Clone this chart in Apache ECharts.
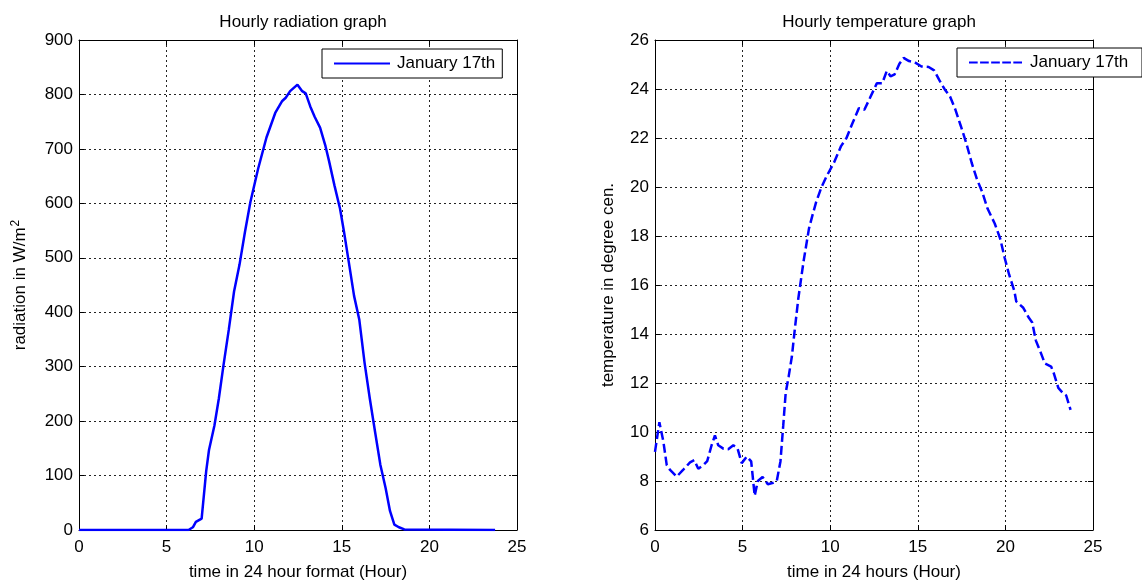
<!DOCTYPE html>
<html><head><meta charset="utf-8">
<script src="https://cdn.jsdelivr.net/npm/echarts@6/dist/echarts.min.js"></script>
<style>html,body{margin:0;padding:0;background:#fff}#c{width:1142px;height:586px}</style>
</head><body><div id="c"></div>
<script>
// Radiation (W/m^2) vs hour
const radHours = [0, 6.25, 6.5, 6.67, 7.0, 7.26, 7.42, 7.73, 7.98, 8.24, 8.55, 8.85, 9.16, 9.47, 9.78, 10.22, 10.7, 11.2, 11.6, 11.8, 12.05, 12.47, 12.74, 12.94, 13.2, 13.45, 13.76, 14.07, 14.27, 14.58, 14.9, 15.13, 15.4, 15.7, 16.0, 16.3, 16.6, 16.9, 17.2, 17.5, 17.75, 18.0, 18.26, 18.57, 23.75];
const radValues = [0, 0, 5, 15, 21, 108, 147, 192, 241, 301, 368, 438, 487, 547, 602, 663, 721, 766, 788, 794, 806, 818, 806, 802, 778, 759, 739, 705, 678, 633, 590, 547, 492, 430, 386, 307, 241, 180, 120, 77, 35, 10, 5, 1, 0];
// Temperature (deg C) vs hour
const tempHours = [0, 0.25, 0.48, 0.67, 0.86, 1.24, 1.6, 2.0, 2.24, 2.47, 2.76, 2.98, 3.23, 3.42, 3.61, 3.9, 4.18, 4.47, 4.71, 4.95, 5.24, 5.49, 5.69, 5.87, 6.14, 6.44, 6.75, 6.95, 7.16, 7.32, 7.46, 7.63, 7.81, 7.97, 8.18, 8.48, 8.79, 8.99, 9.2, 9.5, 9.81, 10.22, 10.62, 10.93, 11.24, 11.64, 11.95, 12.26, 12.66, 12.97, 13.23, 13.44, 13.68, 13.95, 14.19, 14.5, 14.8, 15.21, 15.62, 15.93, 16.23, 16.54, 16.84, 17.15, 17.46, 17.76, 18.07, 18.37, 18.68, 18.98, 19.39, 19.7, 19.96, 20.21, 20.51, 20.62, 21.02, 21.33, 21.53, 21.74, 22.04, 22.25, 22.61, 22.76, 23.02, 23.27, 23.47, 23.72];
const tempValues = [9.19, 10.4, 9.6, 8.65, 8.45, 8.18, 8.45, 8.76, 8.85, 8.5, 8.65, 8.81, 9.46, 9.86, 9.46, 9.32, 9.3, 9.46, 9.33, 8.73, 9.0, 8.8, 7.4, 8.0, 8.16, 7.87, 7.93, 8.0, 8.8, 10.27, 11.6, 12.27, 13.07, 14.13, 15.45, 16.97, 18.31, 18.85, 19.39, 19.99, 20.46, 21.0, 21.67, 22.0, 22.55, 23.22, 23.15, 23.62, 24.23, 24.23, 24.74, 24.52, 24.6, 25.03, 25.27, 25.14, 25.1, 24.92, 24.9, 24.76, 24.36, 23.98, 23.69, 23.15, 22.48, 21.81, 21.0, 20.33, 19.79, 19.12, 18.51, 17.9, 17.1, 16.43, 15.76, 15.33, 15.07, 14.67, 14.47, 13.73, 13.2, 12.8, 12.67, 12.4, 11.8, 11.6, 11.49, 10.9];
const xTicks = [0, 5, 10, 15, 20, 25];
const radTicks = [0, 100, 200, 300, 400, 500, 600, 700, 800, 900];
const tempTicks = [6, 8, 10, 12, 14, 16, 18, 20, 22, 24, 26];
const seriesName = 'January 17th';

const FONT = '"Liberation Sans", Arial, sans-serif';
const chart = echarts.init(document.getElementById('c'), null, {renderer: 'canvas'});
const split = {show: true, lineStyle: {color: '#222', type: [2, 3], width: 1}};
function mainX(gi, name) {
  return {type: 'value', gridIndex: gi, min: xTicks[0], max: xTicks[xTicks.length - 1], interval: 5,
    name: name, nameLocation: 'middle', nameGap: 34,
    nameTextStyle: {fontFamily: FONT, fontSize: 17, color: '#000', verticalAlign: 'top'},
    axisLine: {show: true, onZero: false, lineStyle: {color: '#000', width: 1}},
    axisTick: {show: true, inside: true, length: 5, lineStyle: {color: '#000'}},
    axisLabel: {fontFamily: FONT, fontSize: 17, color: '#000', margin: 9},
    splitLine: split};
}
function topX(gi) {
  return {type: 'value', gridIndex: gi, position: 'top', min: xTicks[0], max: xTicks[xTicks.length - 1], interval: 5,
    axisLine: {show: true, onZero: false, lineStyle: {color: '#000'}},
    axisTick: {show: true, inside: true, length: 5, lineStyle: {color: '#000'}},
    axisLabel: {show: false}, splitLine: {show: false}};
}
function mainY(gi, ticks, name, nameGap) {
  return {type: 'value', gridIndex: gi, min: ticks[0], max: ticks[ticks.length - 1], interval: ticks[1] - ticks[0],
    name: name, nameLocation: 'middle', nameGap: nameGap, nameRotate: 90,
    nameTextStyle: {fontFamily: FONT, fontSize: 17, color: '#000',
      rich: {sup: {fontFamily: FONT, fontSize: 12, color: '#000', verticalAlign: 'top', padding: [0, 0, 9, 1]}}},
    axisLine: {show: true, onZero: false, lineStyle: {color: '#000'}},
    axisTick: {show: true, inside: true, length: 5, lineStyle: {color: '#000'}},
    axisLabel: {fontFamily: FONT, fontSize: 17, color: '#000', margin: 6},
    splitLine: split};
}
function rightY(gi, ticks) {
  return {type: 'value', gridIndex: gi, position: 'right', min: ticks[0], max: ticks[ticks.length - 1], interval: ticks[1] - ticks[0],
    axisLine: {show: true, onZero: false, lineStyle: {color: '#000'}},
    axisTick: {show: true, inside: true, length: 5, lineStyle: {color: '#000'}},
    axisLabel: {show: false}, splitLine: {show: false}};
}
const radData = radHours.map((h, i) => [h, radValues[i]]);
const tempData = tempHours.map((h, i) => [h, tempValues[i]]);

const solidIcon = 'path://M0,0h50v2h-50z';
const dashIcon = 'path://M0,0h9v2h-9z M11.5,0h9v2h-9z M23,0h9v2h-9z M34.5,0h9v2h-9z M46,0h9v2h-9z';

chart.setOption({
  animation: false,
  backgroundColor: '#fff',
  title: [
    {text: 'Hourly radiation graph', left: 298, top: 9, textAlign: 'center',
      textStyle: {fontFamily: FONT, fontSize: 17, fontWeight: 'normal', color: '#000'}},
    {text: 'Hourly temperature graph', left: 874, top: 9, textAlign: 'center',
      textStyle: {fontFamily: FONT, fontSize: 17, fontWeight: 'normal', color: '#000'}}
  ],
  grid: [
    {left: 79, top: 40, width: 438, height: 495, show: false},
    {left: 655, top: 40, width: 438, height: 495, show: false}
  ],
  legend: [
    {data: [{name: seriesName, icon: solidIcon}], left: 322, top: 49, orient: 'vertical',
      borderColor: '#000', borderWidth: 1, padding: [6, 7, 6, 12], backgroundColor: '#fff',
      itemWidth: 56, itemHeight: 2.5, itemGap: 0,
      textStyle: {fontFamily: FONT, fontSize: 17, color: '#000', padding: [0, 0, 0, 2]}, selectedMode: false},
    {data: [{name: seriesName + ' ', icon: dashIcon}], left: 957, top: 48, orient: 'vertical',
      borderColor: '#000', borderWidth: 1, padding: [6, 9, 6, 12], backgroundColor: '#fff',
      itemWidth: 53, itemHeight: 2.5, itemGap: 0,
      textStyle: {fontFamily: FONT, fontSize: 17, color: '#000', padding: [0, 0, 0, 3]}, selectedMode: false}
  ],
  xAxis: [mainX(0, 'time in 24 hour format (Hour)'), topX(0), mainX(1, 'time in 24 hours (Hour)'), topX(1)],
  yAxis: [mainY(0, radTicks, 'radiation in W/m{sup|2}', 48), rightY(0, radTicks),
          mainY(1, tempTicks, 'temperature in degree cen.', 38), rightY(1, tempTicks)],
  series: [
    {name: seriesName, type: 'line', xAxisIndex: 0, yAxisIndex: 0, data: radData,
      symbol: 'none', lineStyle: {color: '#0000ff', width: 2.5}, itemStyle: {color: '#0000ff'}, z: 5},
    {name: seriesName + ' ', type: 'line', xAxisIndex: 2, yAxisIndex: 2, data: tempData,
      symbol: 'none', lineStyle: {color: '#0000ff', width: 2.5, type: [9, 4]}, itemStyle: {color: '#0000ff'}, z: 5}
  ]
});
</script></body></html>
